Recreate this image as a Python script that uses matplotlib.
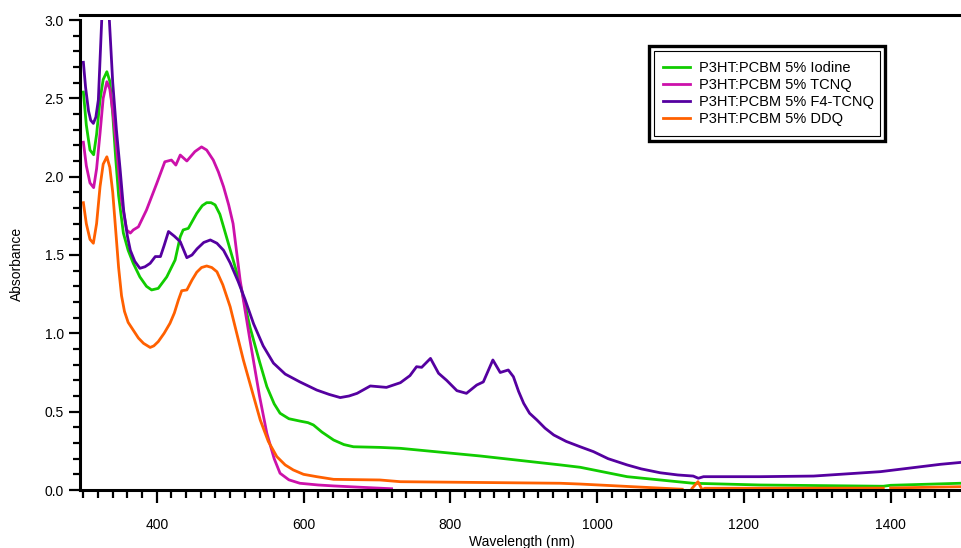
import numpy as np
import matplotlib
matplotlib.use('Agg')
import matplotlib.pyplot as plt
from matplotlib.patches import Rectangle
from matplotlib.ticker import MultipleLocator

plt.rcParams['font.family'] = ['Liberation Sans', 'DejaVu Sans']

# P3HT:PCBM 5% Iodine
wl_iod = [300, 304, 309, 314, 318, 322.7, 327, 332, 336, 340, 344, 348, 354.5, 361, 368, 377, 386,
          393, 402, 413.6, 425, 432, 436, 443, 454.5, 462, 468, 474, 479.5, 486, 491, 504, 515,
          527, 540, 550, 560, 568, 580, 595, 606, 613.5, 625, 641, 655, 668, 704, 732, 841, 950,
          977, 1041, 1131, 1222, 1390, 1400, 1495]
a_iod = [2.54, 2.33, 2.17, 2.14, 2.27, 2.49, 2.62, 2.67, 2.61, 2.4, 2.12, 1.88, 1.64, 1.53, 1.447,
         1.36, 1.30, 1.277, 1.287, 1.36, 1.468, 1.617, 1.66, 1.67, 1.766, 1.815, 1.834, 1.834,
         1.82, 1.76, 1.68, 1.47, 1.29, 1.04, 0.82, 0.66, 0.55, 0.49, 0.455, 0.44, 0.43, 0.415,
         0.37, 0.319, 0.29, 0.276, 0.272, 0.266, 0.217, 0.16, 0.145, 0.085, 0.043, 0.032, 0.024,
         0.03, 0.043]

# P3HT:PCBM 5% TCNQ
wl_tcnq = [300, 304, 309, 314, 318, 322.7, 327, 332, 336, 340, 345.5, 352, 359, 364, 368, 375, 386,
           400, 411, 420, 426, 432, 441, 452, 461, 468, 477, 484, 491, 498, 504, 513.6, 527, 540,
           550, 560, 568, 580, 595, 620, 641, 680, 720]
a_tcnq = [2.22, 2.07, 1.96, 1.93, 2.05, 2.277, 2.5, 2.606, 2.56, 2.42, 2.17, 1.85, 1.66, 1.64,
          1.66, 1.68, 1.787, 1.957, 2.095, 2.106, 2.074, 2.138, 2.10, 2.16, 2.19, 2.17, 2.106,
          2.03, 1.936, 1.82, 1.70, 1.34, 0.957, 0.6, 0.362, 0.2, 0.107, 0.065, 0.043, 0.032,
          0.026, 0.017, 0.008]

# P3HT:PCBM 5% F4-TCNQ
wl_f4 = [300, 303, 307, 310, 313.6, 317, 320.4, 325, 331, 335.4, 340, 345, 350, 355, 360, 364,
         370, 377, 384, 391, 398, 405, 410, 416, 424, 432, 441, 448, 455, 464, 473, 482, 491, 500,
         511, 520, 532, 545, 559, 575, 595, 618, 635, 650, 662, 673, 691, 713, 732, 745, 754,
         761, 773, 784, 795, 809, 822, 836, 845, 858, 868, 879, 886, 893, 900, 908, 918, 929,
         941, 958, 977, 995, 1015, 1041, 1060, 1086, 1110, 1131, 1138, 1145, 1222, 1295, 1386,
         1468, 1500]
a_f4 = [2.73, 2.57, 2.42, 2.36, 2.34, 2.38, 2.49, 3.0, 3.35, 3.0, 2.6, 2.3, 2.05, 1.78, 1.62,
        1.53, 1.46, 1.415, 1.425, 1.447, 1.49, 1.49, 1.56, 1.65, 1.62, 1.585, 1.483, 1.5, 1.54,
        1.58, 1.596, 1.575, 1.53, 1.45, 1.33, 1.22, 1.06, 0.92, 0.81, 0.74, 0.69, 0.638, 0.61,
        0.59, 0.6, 0.617, 0.664, 0.655, 0.685, 0.73, 0.787, 0.783, 0.84, 0.745, 0.70, 0.634,
        0.617, 0.67, 0.69, 0.83, 0.75, 0.766, 0.723, 0.63, 0.553, 0.49, 0.447, 0.395, 0.351,
        0.31, 0.276, 0.245, 0.2, 0.16, 0.135, 0.11, 0.096, 0.089, 0.075, 0.085, 0.085, 0.089,
        0.117, 0.164, 0.178]

# P3HT:PCBM 5% DDQ (nan = gap in the trace)
wl_ddq = [300, 304, 309, 313.6, 318, 322.7, 327, 332, 336, 340, 344, 348, 352, 356, 361, 368,
          375, 382, 391, 396, 402, 410, 418, 424, 429.5, 434, 441, 448, 454.5, 461, 468, 475,
          482, 490, 500, 509, 518, 530, 541, 552, 563.6, 575, 586, 600, 618, 641, 704, 732, 950,
          977, 1116, np.nan, 1129.5, 1137.5, 1143, 1147, 1390, np.nan, 1400, 1495]
a_ddq = [1.834, 1.7, 1.6, 1.575, 1.7, 1.936, 2.08, 2.127, 2.06, 1.9, 1.66, 1.42, 1.24, 1.14, 1.07,
         1.02, 0.97, 0.936, 0.91, 0.92, 0.947, 1.0, 1.064, 1.13, 1.213, 1.272, 1.277, 1.34, 1.39,
         1.42, 1.43, 1.42, 1.393, 1.31, 1.17, 1.0, 0.83, 0.63, 0.447, 0.31, 0.213, 0.16, 0.128,
         0.1, 0.085, 0.068, 0.064, 0.053, 0.043, 0.038, 0.005, np.nan, 0.011, 0.053, 0.003,
         0.011, 0.012, np.nan, 0.013, 0.021]

labels = ['P3HT:PCBM 5% Iodine', 'P3HT:PCBM 5% TCNQ', 'P3HT:PCBM 5% F4-TCNQ', 'P3HT:PCBM 5% DDQ']
colors = ['#11cc00', '#cc11aa', '#5500a0', '#ff6000']

fig = plt.figure(figsize=(9.61, 5.48), dpi=100)
ax = fig.add_axes([80/961, 58/548, 884/961, 470/548])

series = [(wl_iod, a_iod), (wl_tcnq, a_tcnq), (wl_f4, a_f4), (wl_ddq, a_ddq)]
for (x, y), lab, c in zip(series, labels, colors):
    ax.plot(x, y, color=c, lw=2.0, label=lab)

ax.set_xlim(295.4, 1500)
ax.set_ylim(0, 3.0)
ax.xaxis.set_minor_locator(MultipleLocator(20))
ax.yaxis.set_minor_locator(MultipleLocator(0.1))
ax.set_xticks([400, 600, 800, 1000, 1200, 1400])
ax.set_yticks([0, 0.5, 1.0, 1.5, 2.0, 2.5, 3.0])
ax.set_yticklabels(['0.0', '0.5', '1.0', '1.5', '2.0', '2.5', '3.0'])

for s in ['left', 'bottom', 'top']:
    ax.spines[s].set_linewidth(2.2)
ax.spines['top'].set_position(('outward', 3.6))
ax.spines['right'].set_visible(False)

ax.tick_params(axis='x', which='major', length=9.5, width=1.6, pad=11, labelsize=10)
ax.tick_params(axis='x', which='minor', length=5.5, width=1.6)
ax.tick_params(axis='y', which='major', length=8, width=1.6, pad=3.6, labelsize=10)
ax.tick_params(axis='y', which='minor', length=5, width=1.6)

ax.set_xlabel('Wavelength (nm)', fontsize=10, labelpad=2)
ax.set_ylabel('Absorbance', fontsize=10)
ax.yaxis.set_label_coords(-0.063, 0.48)

# legend with a double frame
fig.add_artist(Rectangle((649/961, 407/548), 236/961, 95/548, transform=fig.transFigure,
                         fill=False, ec='black', lw=2.4))
fig.add_artist(Rectangle((654/961, 412/548), 226/961, 85/548, transform=fig.transFigure,
                         fill=False, ec='black', lw=0.8))
ax.legend(loc='center left', bbox_to_anchor=(663/961, (548-93.3)/548),
          bbox_transform=fig.transFigure, frameon=False, fontsize=10.5,
          borderpad=0, borderaxespad=0, handlelength=1.85, handletextpad=0.62,
          labelspacing=0.2)

fig.savefig('out.png', dpi=100)
